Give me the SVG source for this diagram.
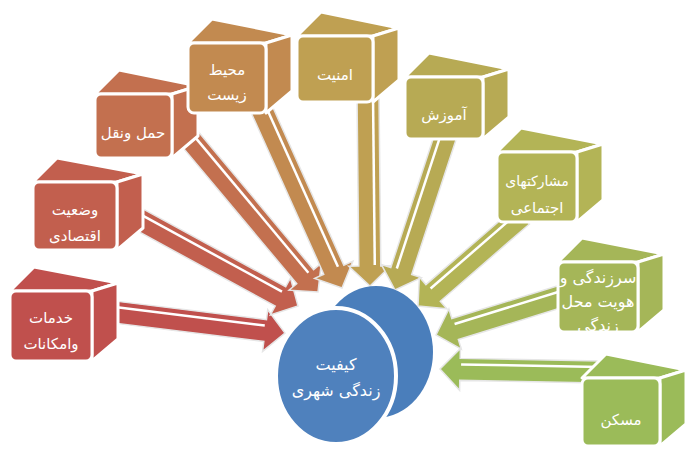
<svg xmlns="http://www.w3.org/2000/svg" width="689" height="453" viewBox="0 0 689 453">
<style>
.face{stroke:#fff;stroke-width:3;stroke-linejoin:round}
.arr{stroke:#e6e6e6;stroke-width:1.5;stroke-linejoin:miter}
.hl{stroke:#fff;stroke-width:2.5;fill:none}
.t{font-family:"DejaVu Sans",sans-serif;font-size:15px;fill:#fff;text-anchor:middle}
.c1{fill:#C0504D}.c2{fill:#C25F4E}.c3{fill:#C3704F}.c4{fill:#C28A50}.c5{fill:#BFA052}
.c6{fill:#B7AA54}.c7{fill:#B3B456}.c8{fill:#A5B658}.c9{fill:#9BBB59}
</style>
<defs>
<clipPath id="clip8"><rect x="558" y="262" width="80" height="70" rx="6"/></clipPath>
</defs>
<rect width="689" height="453" fill="#fff"/>
<g id="connectors">
<g transform="translate(285,333) rotate(7)"><polygon class="arr c1" points="-174,-11 -20,-11 -20,-21 0,0 -20,21 -20,11 -174,11"/><line class="hl" x1="-174" y1="-5" x2="-21" y2="-5"/></g>
<g transform="translate(298,306) rotate(28.6)"><polygon class="arr c2" points="-190,-11 -20,-11 -20,-21 0,0 -20,21 -20,11 -190,11"/><line class="hl" x1="-190" y1="-5" x2="-21" y2="-5"/></g>
<g transform="translate(318,292) rotate(50.1)"><polygon class="arr c3" points="-200,-11 -20,-11 -20,-21 0,0 -20,21 -20,11 -200,11"/><line class="hl" x1="-200" y1="-5" x2="-21" y2="-5"/></g>
<g transform="translate(342,288) rotate(65.8)"><polygon class="arr c4" points="-205,-11 -20,-11 -20,-21 0,0 -20,21 -20,11 -205,11"/><line class="hl" x1="-205" y1="-5" x2="-21" y2="-5"/></g>
<g transform="translate(370,286) rotate(89.4)"><polygon class="arr c5" points="-196,-11 -20,-11 -20,-21 0,0 -20,21 -20,11 -196,11"/><line class="hl" x1="-196" y1="-5" x2="-21" y2="-5"/></g>
<g transform="translate(395,290) rotate(108.2)"><polygon class="arr c6" points="-170,-11 -20,-11 -20,-21 0,0 -20,21 -20,11 -170,11"/><line class="hl" x1="-170" y1="5" x2="-21" y2="5"/></g>
<g transform="translate(418,306) rotate(139.1)"><polygon class="arr c7" points="-138,-11 -20,-11 -20,-21 0,0 -20,21 -20,11 -138,11"/><line class="hl" x1="-138" y1="5" x2="-21" y2="5"/></g>
<g transform="translate(436,335) rotate(162.8)"><polygon class="arr c8" points="-142,-11 -20,-11 -20,-21 0,0 -20,21 -20,11 -142,11"/><line class="hl" x1="-142" y1="5" x2="-21" y2="5"/></g>
<g transform="translate(440,369) rotate(181.1)"><polygon class="arr c9" points="-160,-11 -20,-11 -20,-21 0,0 -20,21 -20,11 -160,11"/><line class="hl" x1="-160" y1="5" x2="-21" y2="5"/></g>
</g>
<g id="n1">
<polygon class="face c1" points="10,291 92,291 118,283 34,267"/>
<polygon class="face c1" points="92,291 118,283 118,339 92,361"/>
<rect class="face c1" x="10" y="291" width="82" height="70" rx="6"/>
<text class="t" x="51" y="323">خدمات</text><text class="t" x="51" y="349">وامکانات</text>
</g>
<g id="n2">
<polygon class="face c2" points="33,182 117,182 143,174 57,158"/>
<polygon class="face c2" points="117,182 143,174 143,228 117,250"/>
<rect class="face c2" x="33" y="182" width="84" height="68" rx="6"/>
<text class="t" x="75" y="215">وضعیت</text><text class="t" x="75" y="241">اقتصادی</text>
</g>
<g id="n3">
<polygon class="face c3" points="95,94 172,94 198,86 119,70"/>
<polygon class="face c3" points="172,94 198,86 198,136 172,158"/>
<rect class="face c3" x="95" y="94" width="77" height="64" rx="6"/>
<text class="t" x="133" y="138">حمل ونقل</text>
</g>
<g id="n4">
<polygon class="face c4" points="188,43 266,43 292,35 212,19"/>
<polygon class="face c4" points="266,43 292,35 292,91 266,113"/>
<rect class="face c4" x="188" y="43" width="78" height="70" rx="6"/>
<text class="t" x="227" y="75">محیط</text><text class="t" x="227" y="100">زیست</text>
</g>
<g id="n5">
<polygon class="face c5" points="297,36 373,36 399,28 321,12"/>
<polygon class="face c5" points="373,36 399,28 399,80 373,102"/>
<rect class="face c5" x="297" y="36" width="76" height="66" rx="6"/>
<text class="t" x="335" y="80">امنیت</text>
</g>
<g id="n6">
<polygon class="face c6" points="405,77 483,77 509,69 429,53"/>
<polygon class="face c6" points="483,77 509,69 509,117 483,139"/>
<rect class="face c6" x="405" y="77" width="78" height="62" rx="6"/>
<text class="t" x="444" y="120">آموزش</text>
</g>
<g id="n7">
<polygon class="face c7" points="497,152 577,152 603,144 521,128"/>
<polygon class="face c7" points="577,152 603,144 603,200 577,222"/>
<rect class="face c7" x="497" y="152" width="80" height="70" rx="6"/>
<text class="t" x="537" y="186" style="font-size:14px">مشارکتهای</text><text class="t" x="537" y="213">اجتماعی</text>
</g>
<g id="n8">
<polygon class="face c8" points="558,262 638,262 664,254 582,238"/>
<polygon class="face c8" points="638,262 664,254 664,310 638,332"/>
<rect class="face c8" x="558" y="262" width="80" height="70" rx="6"/>
<g clip-path="url(#clip8)"><text class="t" x="598" y="283" style="font-size:16px">سرزندگی و</text><text class="t" x="598" y="307" style="font-size:16px">هویت محل</text><text class="t" x="598" y="331" style="font-size:16px">زندگی</text></g>
</g>
<g id="n9">
<polygon class="face c9" points="582,378 660,378 686,370 606,354"/>
<polygon class="face c9" points="660,378 686,370 686,424 660,446"/>
<rect class="face c9" x="582" y="378" width="78" height="68" rx="6"/>
<text class="t" x="621" y="425">مسکن</text>
</g>
<g id="center">
<ellipse cx="376" cy="352" rx="57" ry="66" fill="#4A7EBB"/>
<ellipse cx="336" cy="376" rx="60" ry="68" fill="#4F81BD" stroke="#fff" stroke-width="4"/>
<text class="t" x="336" y="370" style="font-size:16px">کیفیت</text>
<text class="t" x="336" y="396" style="font-size:16px">زندگی شهری</text>
</g>
</svg>
